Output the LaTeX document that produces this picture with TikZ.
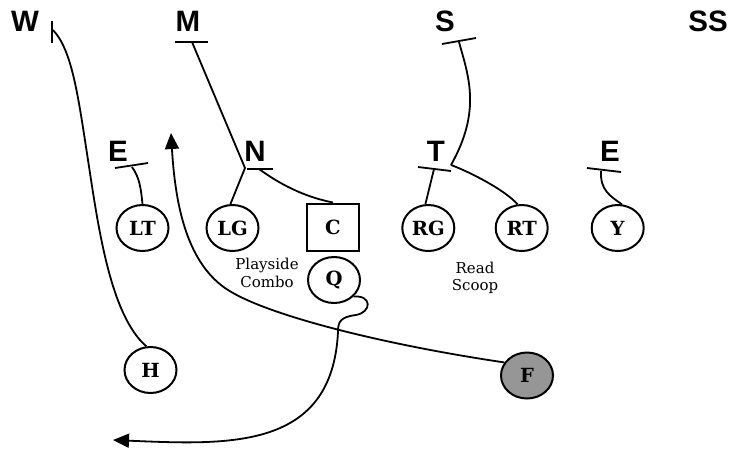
\documentclass[tikz,border=0pt]{standalone}
\usepackage{fontspec}
\newfontfamily\defont{Liberation Sans}
\newfontfamily\offont{DejaVu Serif}
\usepackage{tikz}
\usetikzlibrary{arrows.meta,shapes.geometric,positioning,calc}
\usepackage{xcolor}
\definecolor{fullback}{RGB}{150,150,150}

\begin{document}
\begin{tikzpicture}[x=1pt, y=-1pt,
    player/.style={ellipse, draw, line width=2pt, minimum width=52pt, minimum height=46pt,
        inner sep=0pt, font=\offont\bfseries\fontsize{19.5}{21}\selectfont},
    defender/.style={inner sep=0pt, font=\defont\bfseries\fontsize{29.5}{32}\selectfont},
    note/.style={align=center, inner sep=0pt, font=\offont\fontsize{15}{17.5}\selectfont},
    route/.style={line width=1.8pt},
    techmark/.style={line width=1.8pt},
    tip/.style={-{Triangle[length=16pt,width=14pt]}}]
    \useasboundingbox (0,0) rectangle (733,451);

    % 防守方
    \foreach \n/\t/\x/\y in {dW/W/25/21, dM/M/188/21, dS/S/445/21, dSS/SS/708/21,
        dEl/E/118/151, dN/N/255/151, dT/T/436/151, dEr/E/610/151} {
        \node[defender] (\n) at (\x,\y) {\t};
    }

    % 进攻方
    \foreach \n/\x in {LT/142.5, LG/232.5, RG/428.3, RT/521.7, Y/617.7} {
        \node[player] (\n) at (\x,228) {\n};
    }
    \node[player, rectangle, minimum height=47pt] (C) at (333,227) {C};
    \node[player] (Q) at (334,280) {Q};
    \node[player] (H) at (150.5,370) {H};
    \node[player, fill=fullback] (F) at (527,375.5) {F};

    % 说明
    \node[note] (combo) at (267,273) {Playside\\Combo};
    \node[note] (scoop) at (475,278) {Read\\Scoop};

    % 防守标记
    \draw[techmark] (52,21) -- (52,43);
    \draw[techmark] (175,42) -- (208,42);
    \draw[techmark] (442,44) -- (476,38);
    \draw[techmark] (115,168) -- (148,163);
    \draw[techmark] (247,169) -- (273,169);
    \draw[techmark] (418,167) -- (451,171);
    \draw[techmark] (587,168) -- (621,172);
    \coordinate (wW) at (53,30);
    \coordinate (wM) at (192,42);
    \coordinate (wS) at (459,42);
    \coordinate (wEl) at (132,167);
    \coordinate (wN) at (259,169);
    \coordinate (wNl) at (245,168);
    \coordinate (wT) at (434,169);
    \coordinate (wTr) at (451,165);
    \coordinate (wEr) at (601,171);

    % 线路
    \draw[route] (wW) .. controls (72,50) and (78,95) .. (88,160)
        .. controls (98,225) and (110,315) .. (H.100);
    \draw[route] (wM) -- (wNl) -- (LG.95);
    \draw[route] (wN) .. controls (285,188) and (310,198) .. (C.north);
    \draw[route] (wS) .. controls (468,75) and (482,110) .. (wTr);
    \draw[route] (wTr) .. controls (470,172) and (505,190) .. (RT.100);
    \draw[route] (wT) -- (RG.97);
    \draw[route] (wEl) .. controls (140,178) and (141,190) .. (LT.north);
    \draw[route] (wEr) .. controls (600,190) and (610,196) .. (Y.80);

    % 跑动
    \coordinate (qEnd) at (113,440);
    \coordinate (fEnd) at (171,133);
    \draw[route, tip] (F.150) .. controls (380,344) and (262,314) .. (225,288)
        .. controls (185,260) and (175,200) .. (fEnd);
    \draw[route, tip] (Q.-40) .. controls (372,295) and (372,312) .. (356,315)
        .. controls (340,317) and (338,322) .. (338,332)
        .. controls (332,450) and (230,445) .. (qEnd);
\end{tikzpicture}
\end{document}
